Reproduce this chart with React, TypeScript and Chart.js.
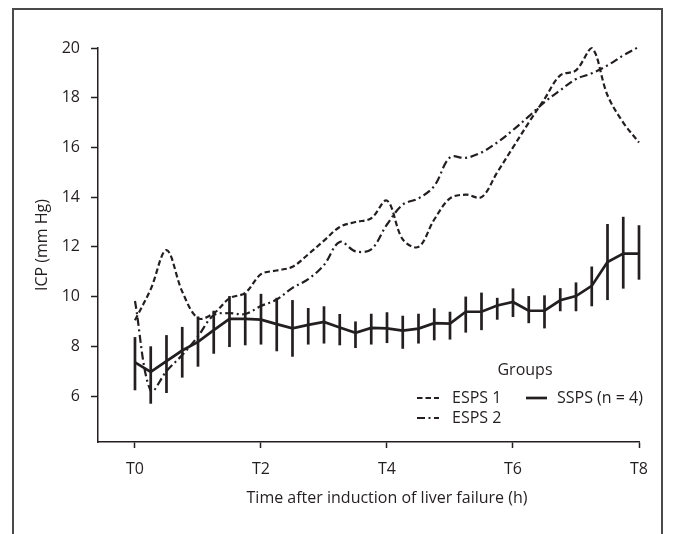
import React, { useEffect, useRef } from "react";
import { Chart, registerables } from "chart.js";

Chart.register(...registerables);

// ---- data ----
const hours = [
  0, 0.25, 0.5, 0.75, 1, 1.25, 1.5, 1.75, 2, 2.25, 2.5, 2.75, 3, 3.25, 3.5, 3.75,
  4, 4.25, 4.5, 4.75, 5, 5.25, 5.5, 5.75, 6, 6.25, 6.5, 6.75, 7, 7.25, 7.5, 7.75, 8,
];

const esps1 = [
  9.05, 10.3, 11.87, 10.2, 9.13, 9.33, 9.93, 10.15, 10.9, 11.05, 11.2, 11.7, 12.25,
  12.8, 13.0, 13.15, 13.86, 12.3, 12.0, 13.1, 13.95, 14.1, 14.0, 15.0, 16.0, 17.0,
  17.95, 18.9, 19.1, 20.0, 18.1, 17.0, 16.2,
];

const esps2 = [
  9.82, 6.2, 7.0, 7.65, 8.4, 9.25, 9.33, 9.3, 9.62, 9.88, 10.35, 10.7, 11.27, 12.2,
  11.82, 11.9, 12.9, 13.7, 13.95, 14.45, 15.6, 15.58, 15.8, 16.2, 16.7, 17.25, 17.82,
  18.3, 18.75, 18.98, 19.3, 19.7, 20.05,
];

const sspsMean = [
  7.35, 6.97, 7.4, 7.83, 8.18, 8.65, 9.1, 9.1, 9.07, 8.89, 8.72, 8.86, 8.98, 8.76,
  8.54, 8.74, 8.72, 8.63, 8.71, 8.93, 8.91, 9.39, 9.39, 9.64, 9.78, 9.43, 9.43, 9.85,
  10.02, 10.43, 11.39, 11.73, 11.73,
];

const sspsHigh = [
  8.37, 8.0, 8.45, 8.78, 9.2, 9.43, 10.02, 10.13, 10.11, 9.95, 9.86, 9.54, 9.61, 9.3,
  9.0, 9.31, 9.37, 9.23, 9.31, 9.53, 9.39, 10.0, 10.16, 9.95, 10.33, 10.02, 10.05,
  10.34, 10.57, 11.21, 12.92, 13.21, 12.87,
];

const sspsLow = [
  6.23, 5.69, 6.12, 6.74, 7.18, 7.7, 7.97, 8.04, 8.07, 7.8, 7.58, 8.07, 8.11, 8.04,
  7.93, 8.07, 8.13, 7.9, 8.11, 8.24, 8.27, 8.55, 8.65, 9.07, 9.18, 8.93, 8.72, 9.41,
  9.41, 9.61, 9.86, 10.32, 10.68,
];

const xTickValues = [0, 2, 4, 6, 8];
const xTickLabels = ["T0", "T2", "T4", "T6", "T8"];
const yTickValues = [6, 8, 10, 12, 14, 16, 18, 20];

const seriesNames = ["ESPS 1", "ESPS 2", "SSPS (n = 4)"];
const legendTitle = "Groups";
const xTitle = "Time after induction of liver failure (h)";
const yTitle = "ICP (mm Hg)";

// ---- styles ----
const INK = "#231f20";
const FONT = "'Open Sans', 'Noto Sans', sans-serif";
const DASH1 = [5.5, 3];
const DASH2 = [8, 3.5, 2, 3.5];

const toPts = (ys: number[]) => hours.map((h, i) => ({ x: h, y: ys[i] }));

const framePlugin = {
  id: "frame",
  beforeDraw(chart: any) {
    const ctx = chart.ctx;
    ctx.save();
    ctx.fillStyle = "#ffffff";
    ctx.fillRect(0, 0, chart.width, chart.height);
    ctx.strokeStyle = "#4a4a4a";
    ctx.lineWidth = 2;
    ctx.beginPath();
    ctx.moveTo(13, 540);
    ctx.lineTo(13, 9);
    ctx.lineTo(662, 9);
    ctx.lineTo(662, 540);
    ctx.stroke();
    ctx.restore();
  },
};

const errorBarPlugin = {
  id: "errorBars",
  afterDatasetsDraw(chart: any) {
    const { ctx } = chart;
    const xs = chart.scales.x;
    const ys = chart.scales.y;
    ctx.save();
    ctx.strokeStyle = INK;
    ctx.lineWidth = 2.7;
    ctx.lineCap = "butt";
    hours.forEach((h, i) => {
      const px = xs.getPixelForValue(h);
      ctx.beginPath();
      ctx.moveTo(px, ys.getPixelForValue(sspsHigh[i]));
      ctx.lineTo(px, ys.getPixelForValue(sspsLow[i]));
      ctx.stroke();
    });
    ctx.restore();
  },
};

const textPlugin = {
  id: "texts",
  afterDraw(chart: any) {
    const { ctx } = chart;
    const xs = chart.scales.x;
    const area = chart.chartArea;
    ctx.save();
    ctx.fillStyle = INK;
    ctx.font = `16px ${FONT}`;
    ctx.textBaseline = "middle";

    // x axis title centred on T0..T8
    ctx.textAlign = "center";
    const cx = (xs.getPixelForValue(0) + xs.getPixelForValue(8)) / 2;
    ctx.fillText(xTitle, cx, area.bottom + 56);

    // legend
    ctx.fillText(legendTitle, area.right - 114, area.bottom - 72);
    ctx.textAlign = "left";
    const row1 = area.bottom - 44;
    const row2 = area.bottom - 24;
    ctx.fillText(seriesNames[0], area.right - 187, row1);
    ctx.fillText(seriesNames[1], area.right - 187, row2);
    ctx.fillText(seriesNames[2], area.right - 82, row1);

    ctx.strokeStyle = INK;
    ctx.lineWidth = 2.2;
    ctx.setLineDash(DASH1);
    ctx.beginPath();
    ctx.moveTo(area.right - 222, row1);
    ctx.lineTo(area.right - 200, row1);
    ctx.stroke();
    ctx.setLineDash(DASH2);
    ctx.beginPath();
    ctx.moveTo(area.right - 222, row2);
    ctx.lineTo(area.right - 200, row2);
    ctx.stroke();
    ctx.setLineDash([]);
    ctx.lineWidth = 2.7;
    ctx.beginPath();
    ctx.moveTo(area.right - 113, row1);
    ctx.lineTo(area.right - 92, row1);
    ctx.stroke();
    ctx.restore();
  },
};

export default function App() {
  const ref = useRef<HTMLCanvasElement>(null);

  useEffect(() => {
    const canvas = ref.current;
    if (!canvas) return;
    const chart = new Chart(canvas, {
      type: "line",
      data: {
        datasets: [
          {
            label: seriesNames[0],
            data: toPts(esps1),
            borderColor: INK,
            borderWidth: 2.2,
            borderDash: DASH1,
            pointRadius: 0,
            tension: 0.35,
            fill: false,
            clip: false as any,
          },
          {
            label: seriesNames[1],
            data: toPts(esps2),
            borderColor: INK,
            borderWidth: 2.2,
            borderDash: DASH2,
            pointRadius: 0,
            tension: 0.35,
            fill: false,
            clip: false as any,
          },
          {
            label: seriesNames[2],
            data: toPts(sspsMean),
            borderColor: INK,
            borderWidth: 2.7,
            pointRadius: 0,
            tension: 0,
            fill: false,
            clip: false as any,
          },
        ],
      },
      options: {
        responsive: false,
        animation: false,
        events: [],
        layout: { padding: { left: 0, top: 48, right: 35, bottom: 0 } },
        plugins: {
          legend: { display: false },
          tooltip: { enabled: false },
          title: { display: false },
        },
        scales: {
          x: {
            type: "linear",
            min: -0.587,
            max: 8,
            afterBuildTicks: (s: any) => {
              s.ticks = xTickValues.map((v) => ({ value: v }));
            },
            afterFit: (s: any) => {
              s.height = 92;
            },
            grid: {
              display: true,
              drawOnChartArea: false,
              drawTicks: true,
              tickLength: 6,
              tickWidth: 1.5,
              tickColor: INK,
            },
            border: { display: true, color: INK, width: 1.5 },
            ticks: {
              color: INK,
              font: { family: FONT, size: 16 },
              padding: 12,
              maxRotation: 0,
              autoSkip: false,
              callback: (v: any) => {
                const i = xTickValues.indexOf(Number(v));
                return i >= 0 ? xTickLabels[i] : "";
              },
            },
          },
          y: {
            type: "linear",
            min: 4.15,
            max: 20,
            afterBuildTicks: (s: any) => {
              s.ticks = yTickValues.map((v) => ({ value: v }));
            },
            afterFit: (s: any) => {
              s.width = 98;
            },
            grid: {
              display: true,
              drawOnChartArea: false,
              drawTicks: true,
              tickLength: 7,
              tickWidth: 1.5,
              tickColor: INK,
            },
            border: { display: true, color: INK, width: 1.5 },
            ticks: {
              color: INK,
              font: { family: FONT, size: 16 },
              padding: 11,
              autoSkip: false,
              callback: (v: any) => String(v),
            },
            title: {
              display: true,
              text: yTitle,
              color: INK,
              font: { family: FONT, size: 16 },
              padding: { top: 33, bottom: 0 },
            },
          },
        },
      },
      plugins: [framePlugin, errorBarPlugin, textPlugin],
    });
    return () => chart.destroy();
  }, []);

  return (
    <div style={{ position: "absolute", left: 0, top: 0, width: 674, height: 534, background: "#fff" }}>
      <canvas ref={ref} width={674} height={534} style={{ display: "block", width: 674, height: 534 }} />
    </div>
  );
}
